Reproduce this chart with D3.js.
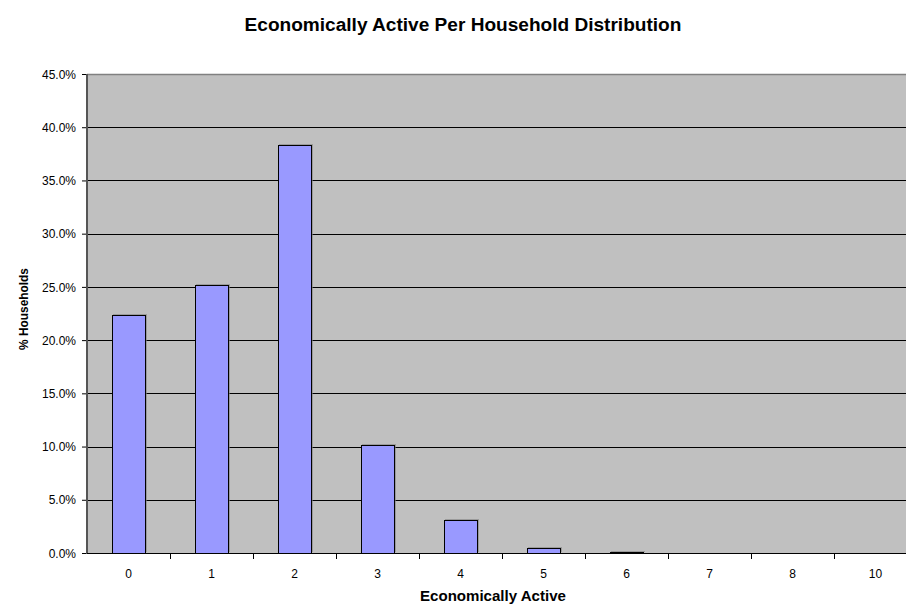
<!DOCTYPE html>
<html><head><meta charset="utf-8">
<script src="https://cdn.jsdelivr.net/npm/d3@7"></script>
<style>body{margin:0;background:#fff}svg{display:block;font-family:"Liberation Sans",Arial,sans-serif}</style>
</head><body><svg id="c" width="906" height="607"></svg>
<script>
const categories = ["0","1","2","3","4","5","6","7","8","10"];
const values = [22.4, 25.15, 38.3, 10.15, 3.13, 0.5, 0.12, 0.02, 0.02, 0.02];
const yTicks = [0,5,10,15,20,25,30,35,40,45];

const svg = d3.select("#c");
const L = 87, T = 74, B = 553, R = 917;
const x = d3.scaleBand().domain(categories).range([L, R]).paddingInner(0.6).paddingOuter(0.3);
const xb = d3.scaleBand().domain(categories).range([L, R]);
const y = d3.scaleLinear().domain([0,45]).range([B, T]);

function fit(sel, target){ // scale font so that text spans target px
  const fs = +sel.attr("font-size");
  const w = sel.node().getComputedTextLength();
  sel.attr("font-size", (fs*target/w).toFixed(2));
}

svg.append("rect").attr("x",L).attr("y",T).attr("width",R-L).attr("height",B-T).attr("fill","#C0C0C0");
svg.append("g").selectAll("line").data(yTicks.slice(1)).join("line")
  .attr("x1",L).attr("x2",R).attr("y1",d=>Math.round(y(d))+0.5).attr("y2",d=>Math.round(y(d))+0.5)
  .attr("stroke",d=>d===45?"#808080":"#000").attr("stroke-width",d=>d===45?1.5:1);

// bar shadows
svg.append("g").selectAll("rect").data(values).join("rect")
  .attr("x",(d,i)=>Math.round(x(categories[i]))+1)
  .attr("y",d=>Math.round(y(d))-1)
  .attr("width",Math.round(x.bandwidth())+1)
  .attr("height",d=>Math.max(0,Math.round(B - y(d))))
  .attr("fill","#808080").attr("opacity",0.6);
svg.append("g").selectAll("rect").data(values).join("rect")
  .attr("x",(d,i)=>Math.round(x(categories[i]))+0.5)
  .attr("y",d=>Math.round(y(d))+0.5)
  .attr("width",Math.round(x.bandwidth()))
  .attr("height",d=>Math.max(0,Math.round(B - y(d))))
  .attr("fill","#9999FF").attr("stroke","#000").attr("stroke-width",1);

// y axis
const ya = svg.append("g").attr("transform",`translate(${L},0)`)
  .call(d3.axisLeft(y).tickValues(yTicks).tickSize(5).tickFormat(d=>d.toFixed(1)+"%"));
ya.select(".domain").remove();
ya.selectAll(".tick line").attr("stroke","#000");
ya.selectAll("text").attr("font-size",12).attr("fill","#000").attr("x",-11).attr("dy","0.35em")
  .attr("font-family","Liberation Sans, Arial, sans-serif");
svg.append("line").attr("x1",L).attr("x2",L).attr("y1",T).attr("y2",B+1).attr("stroke","#555").attr("stroke-width",2);

// x axis
svg.append("line").attr("x1",L).attr("x2",R).attr("y1",B+0.5).attr("y2",B+0.5).attr("stroke","#000");
svg.append("g").selectAll("line").data(categories.slice(1)).join("line")
  .attr("x1",d=>Math.round(xb(d))+0.5).attr("x2",d=>Math.round(xb(d))+0.5)
  .attr("y1",B).attr("y2",B+6).attr("stroke","#000");
svg.append("g").selectAll("text").data(categories).join("text")
  .attr("x",d=>xb(d)+xb.bandwidth()/2).attr("y",B+25).attr("text-anchor","middle")
  .attr("font-size",12).text(d=>d);

const t = svg.append("text").attr("x",463).attr("y",31).attr("text-anchor","middle")
  .attr("font-size",17).attr("font-weight","bold").text("Economically Active Per Household Distribution");
fit(t, 437);
const xl = svg.append("text").attr("x",493).attr("y",601).attr("text-anchor","middle")
  .attr("font-size",14).attr("font-weight","bold").text("Economically Active");
fit(xl, 146);
const yl = svg.append("text").attr("transform","translate(28,309) rotate(-90)").attr("text-anchor","middle")
  .attr("font-size",12).attr("font-weight","bold").text("% Households");
fit(yl, 82);
</script></body></html>
